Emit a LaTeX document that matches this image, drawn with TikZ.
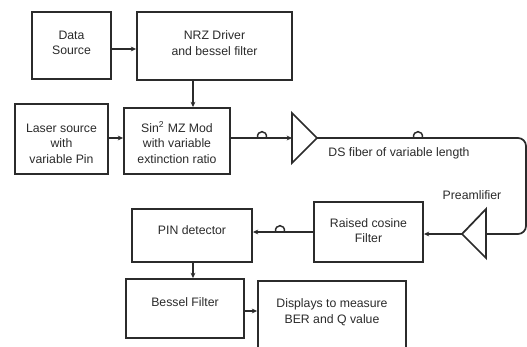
\documentclass[tikz,border=0pt]{standalone}
\usepackage{fontspec}
\setmainfont{Liberation Sans}
\usetikzlibrary{arrows.meta,calc}
\definecolor{ink}{HTML}{2B2B2B}
\begin{document}
\begin{tikzpicture}[x=0.75pt,y=-0.75pt,
  font=\fontsize{9.2}{11.6}\selectfont, text=ink,
  box/.style={draw=ink, line width=1.4pt, inner sep=0pt, align=center},
  lbl/.style={align=center, text=ink},
  arr/.style={draw=ink, line width=1.1pt, -{Stealth[length=4pt,width=3.6pt]}},
  fib/.style={draw=ink, line width=1.3pt},
  coil/.pic={\draw[draw=ink, line width=1.1pt] (-4.5,0) .. controls (-5.5,-8.5) and (5.5,-8.5) .. (4.5,0);}]
\useasboundingbox (0,0) rectangle (527,346);
\clip (0,0) rectangle (527,346);
\fill[white] (0,0) rectangle (527,346);

% boxes
\node[box, minimum width=59.25pt, minimum height=50.25pt] (ds) at (71.5,45.5) {};
\node[lbl] at ($(ds.center)+(0,-2.5)$) {Data\\Source};
\node[box, minimum width=116.25pt, minimum height=51pt] (nrz) at (214.5,46) {};
\node[lbl] at ($(nrz.center)+(0,-3)$) {NRZ Driver\\and bessel filter};
\node[box, minimum width=69.75pt, minimum height=52.5pt] (laser) at (61.5,139) {};
\node[lbl] at ($(laser.center)+(0,4.5)$) {Laser source\\with\\variable Pin};
\node[box, minimum width=79.5pt, minimum height=49.5pt] (sin) at (177,141) {};
\node[lbl] at ($(sin.center)+(0,1.5)$) {Sin\textsuperscript{2} MZ Mod\\with variable\\extinction ratio};
\node[box, minimum width=81.75pt, minimum height=45pt] (rc) at (368.5,232) {};
\node[lbl] at ($(rc.center)+(0,-1.5)$) {Raised cosine\\Filter};
\node[box, minimum width=90pt, minimum height=39.75pt] (pin) at (192,235.5) {};
\node[lbl] at ($(pin.center)+(0,-5.5)$) {PIN detector};
\node[box, minimum width=88.5pt, minimum height=44.25pt] (bes) at (185,308.5) {};
\node[lbl] at ($(bes.center)+(0,-6.5)$) {Bessel Filter};
\node[box, minimum width=111pt, minimum height=60pt] (disp) at (332,321) {};
\node[lbl] at ($(disp.center)+(0,-9)$) {Displays to measure\\BER and Q value};

% triangles (amplifiers)
\coordinate (t1w) at (292,138);
\coordinate (t1e) at (317,138);
\draw[fib] (292,113) -- (t1e) -- (292,163) -- cycle;
\coordinate (t2w) at (462,234);
\coordinate (t2e) at (486,234);
\draw[fib] (486,209) -- (t2w) -- (486,258) -- cycle;

% labels
\node[lbl] (dsf) at (399,153) {DS fiber of variable length};
\node[lbl] (pre) at (472,195) {Preamlifier};

% connectors
\coordinate (cx1) at (193,0);
\draw[arr] (ds.east |- 0,49) -- (nrz.west |- 0,49);
\draw[arr] (nrz.south -| cx1) -- (sin.north -| cx1);
\draw[arr] (laser.east |- 0,138) -- (sin.west |- 0,138);
\draw[arr, line width=0.8pt] (sin.east |- t1w) -- (t1w);
\pic at (262,138) {coil};
\draw[fib, rounded corners=6pt] (t1e) -- (526,138) -- (526,234) -- (t2e);
\pic at (418,138) {coil};
\draw[arr] (t2w) -- (rc.east |- t2w);
\draw[arr] (rc.west |- 0,232) -- (pin.east |- 0,232);
\pic at (280,232) {coil};
\draw[arr] (pin.south -| cx1) -- (bes.north -| cx1);
\draw[arr] (bes.east |- 0,311) -- (disp.west |- 0,311);
\end{tikzpicture}
\end{document}
